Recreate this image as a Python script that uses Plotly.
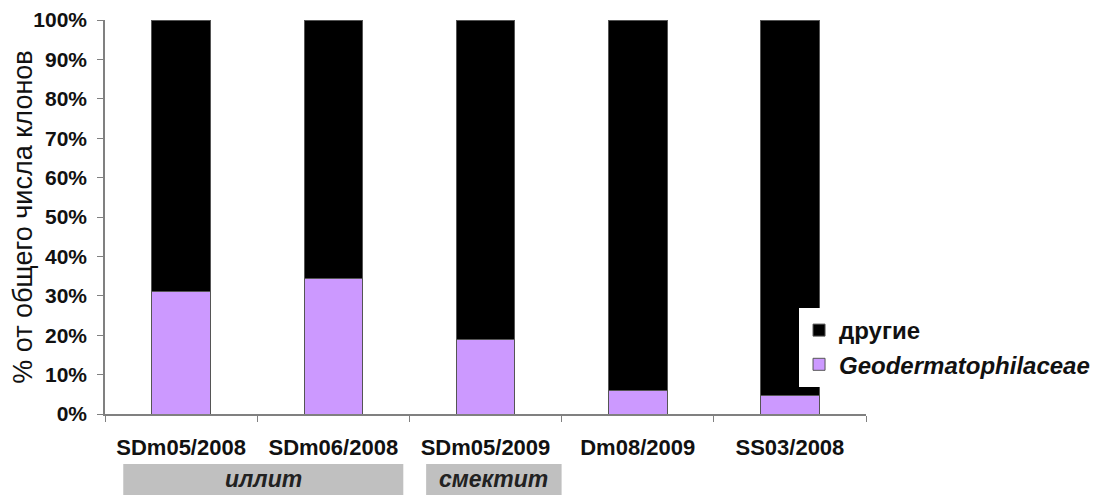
import plotly.graph_objects as go

categories = ["SDm05/2008", "SDm06/2008", "SDm05/2009", "Dm08/2009", "SS03/2008"]
geo_values = [31.2, 34.3, 18.9, 5.9, 4.7]
other_values = [100 - v for v in geo_values]
series_names = ["<b><i>Geodermatophilaceae</i></b>", "<b>другие</b>"]
group_labels = ["иллит", "смектит"]
group_spans = [(-0.38, 1.46), (1.61, 2.5)]

font_family = "Liberation Sans, Arial, sans-serif"

# the page body adds an 8px margin, so the figure is drawn 8px smaller and shifted
W, H = 1103, 487
plot_left, plot_top, plot_right, plot_bottom = 97, 12, 858, 406
plot_h = plot_bottom - plot_top

fig = go.Figure()
fig.add_trace(go.Bar(x=categories, y=geo_values, name=series_names[0],
                     marker=dict(color="#cc99ff", line=dict(color="#555555", width=1))))
fig.add_trace(go.Bar(x=categories, y=other_values, name=series_names[1],
                     marker=dict(color="#000000", line=dict(color="#555555", width=1))))

shapes = []
annotations = []
for (x0, x1), lab in zip(group_spans, group_labels):
    shapes.append(dict(type="rect", xref="x", yref="paper", x0=x0, x1=x1,
                       y0=(plot_bottom - 487) / plot_h, y1=(plot_bottom - 456) / plot_h,
                       fillcolor="#c0c0c0", line=dict(width=0), layer="below"))
    annotations.append(dict(xref="x", yref="paper", x=(x0 + x1) / 2, y=(plot_bottom - 471) / plot_h,
                            text="<b><i>" + lab + "</i></b>",
                            showarrow=False, font=dict(size=23, color="#222222", family=font_family),
                            xanchor="center", yanchor="middle"))

fig.update_layout(
    barmode="stack",
    bargap=0.615,
    width=W, height=H,
    margin=dict(l=plot_left, r=W - plot_right, t=plot_top, b=H - plot_bottom, autoexpand=False),
    paper_bgcolor="white", plot_bgcolor="white",
    font=dict(family=font_family, color="#111111"),
    showlegend=True,
    legend=dict(x=0.912, y=(plot_bottom - 300) / plot_h, xanchor="left", yanchor="top", traceorder="reversed",
                bgcolor="white", font=dict(size=24, color="#111111", family=font_family),
                itemwidth=30, tracegroupgap=0),
    shapes=shapes,
    annotations=annotations,
    xaxis=dict(showline=True, linecolor="#808080", linewidth=1.5, ticks="outside", tickson="boundaries",
               ticklen=6, tickcolor="#808080", tickfont=dict(size=22, color="#111111", family=font_family),
               tickprefix="<b>", ticksuffix="</b>", showgrid=False, automargin=False, ticklabelstandoff=13),
    yaxis=dict(range=[0, 100], dtick=10, ticksuffix="%</b>", tickprefix="<b>", showline=True,
               linecolor="#808080", linewidth=1.5, ticks="outside", ticklen=6, tickcolor="#808080",
               tickfont=dict(size=21, color="#111111", family=font_family), showgrid=False, automargin=False,
               ticklabelstandoff=6,
               title=dict(text="% от общего числа клонов", font=dict(size=27, color="#111111", family=font_family),
                          standoff=0)),
)

fig.write_html("out.html")
